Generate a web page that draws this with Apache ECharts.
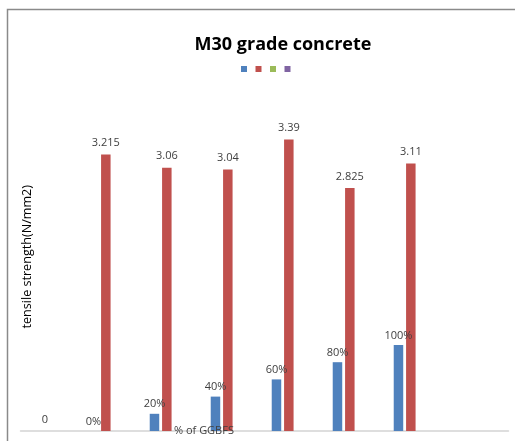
<!DOCTYPE html>
<html>
<head>
<meta charset="utf-8">
<script src="https://cdn.jsdelivr.net/npm/echarts@6/dist/echarts.min.js"></script>
<style>
  html, body { margin: 0; padding: 0; background: #fff; }
  #chart { width: 515px; height: 441px; }
</style>
</head>
<body>
<div id="chart"></div>
<script>
// Categories along the x axis (the last slot is left empty)
const categories = ['c1', 'c2', 'c3', 'c4', 'c5', 'c6', 'c7', 'c8'];
// GGBFS replacement fraction, shown as a percentage
const ggbfsShare = [null, 0, 0.2, 0.4, 0.6, 0.8, 1.0, null];
// Split tensile strength, N/mm2
const tensileStrength = [0, 3.215, 3.06, 3.04, 3.39, 2.825, 3.11, null];
// Two further series that carry no values
const seriesThree = [null, null, null, null, null, null, null, null];
const seriesFour = [null, null, null, null, null, null, null, null];

const labelFont = { fontFamily: 'Open Sans', fontSize: 11, color: '#404040' };

const chart = echarts.init(document.getElementById('chart'), null, { renderer: 'canvas' });
chart.setOption({
  animation: false,
  backgroundColor: '#fff',
  title: {
    text: 'M30 grade concrete',
    left: 278,
    top: 31,
    textAlign: 'center',
    textStyle: { fontFamily: 'Open Sans', fontWeight: 'bold', fontSize: 18, color: '#000' }
  },
  legend: {
    left: 236,
    top: 61,
    icon: 'rect',
    itemWidth: 6,
    itemHeight: 6,
    itemGap: 8.5,
    formatter: () => '',
    textStyle: { fontSize: 1, padding: 0 },
    selectedMode: false
  },
  grid: { left: 20.5, right: 6.5, top: 87, bottom: 10, containLabel: false },
  xAxis: {
    type: 'category',
    data: categories,
    axisLine: { show: true, lineStyle: { color: '#d4d4d4', width: 1.5 } },
    axisTick: { show: false },
    axisLabel: { show: false },
    splitLine: { show: false }
  },
  yAxis: {
    type: 'value',
    min: 0,
    max: 4,
    show: false,
    splitLine: { show: false }
  },
  graphic: [
    {
      type: 'polyline',
      shape: { points: [[7.5, 441], [7.5, 9.5], [515, 9.5]] },
      style: { fill: 'none', stroke: '#8a8a8a', lineWidth: 1.5 },
      silent: true
    },
    {
      type: 'text',
      left: 21,
      top: 185,
      rotation: Math.PI / 2,
      style: {
        text: 'tensile strength(N/mm2)',
        fontFamily: 'Open Sans',
        fontSize: 12.6,
        fill: '#000'
      },
      silent: true
    },
    {
      type: 'text',
      left: 174,
      top: 425,
      z: 100,
      style: {
        text: '% of GGBFS',
        fontFamily: 'Open Sans',
        fontSize: 11,
        fill: '#404040'
      },
      silent: true
    }
  ],
  series: [
    {
      name: 'GGBFS',
      type: 'bar',
      data: ggbfsShare,
      barWidth: 9.5,
      barGap: '30%',
      itemStyle: { color: '#4F81BD' },
      label: {
        show: true,
        position: 'top',
        distance: 4,
        ...labelFont,
        formatter: p => Math.round(p.value * 100) + '%'
      }
    },
    {
      name: 'Tensile strength',
      type: 'bar',
      data: tensileStrength,
      barWidth: 9.5,
      barGap: '30%',
      itemStyle: { color: '#C0504D' },
      label: { show: true, position: 'top', distance: 6, ...labelFont }
    },
    {
      name: 'Series 3',
      type: 'bar',
      data: seriesThree,
      barWidth: 9.5,
      barGap: '30%',
      itemStyle: { color: '#9BBB59' }
    },
    {
      name: 'Series 4',
      type: 'bar',
      data: seriesFour,
      barWidth: 9.5,
      barGap: '30%',
      itemStyle: { color: '#8064A2' }
    }
  ]
});
</script>
</body>
</html>
